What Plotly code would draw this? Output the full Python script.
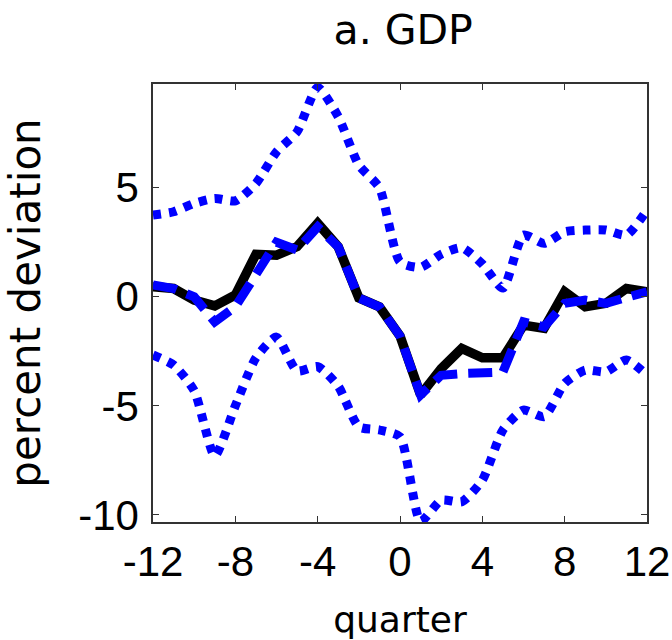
import plotly.graph_objects as go

quarters = list(range(-12, 13))

actual = [0.46, 0.38, -0.15, -0.42, 0.08, 1.95, 1.91, 2.3, 3.37, 2.29, -0.05, -0.46,
          -1.8, -4.5, -3.3, -2.37, -2.8, -2.8, -1.3, -1.45, 0.23, -0.46, -0.3, 0.38, 0.23]

model = [0.54, 0.38, 0.0, -1.15, -0.46, 1.1, 2.5, 2.15, 3.2, 2.29, -0.05, -0.46,
         -1.8, -4.5, -3.6, -3.52, -3.52, -3.45, -1.15, -1.38, -0.3, -0.15, -0.3, 0.0, 0.23]

upper = [3.75, 3.9, 4.28, 4.51, 4.4, 5.2, 6.65, 7.57, 9.6, 8.26, 6.04, 5.0,
         1.6, 1.35, 1.95, 2.25, 1.5, 0.4, 2.83, 2.45, 2.98, 3.06, 3.06, 2.83, 3.98]

lower = [-2.67, -3.13, -4.3, -7.3, -5.0, -2.8, -1.85, -3.4, -3.2, -4.1, -5.96, -6.11,
         -6.42, -10.3, -9.33, -9.4, -8.41, -6.11, -5.2, -5.5, -3.97, -3.36, -3.44, -2.9, -3.59]

xticks = [-12, -8, -4, 0, 4, 8, 12]
yticks = [-10, -5, 0, 5]

BLUE = "#0000FF"
FONT = "DejaVu Sans"
TICKFONT = "Liberation Sans"

fig = go.Figure()
fig.add_trace(go.Scatter(x=quarters, y=actual, mode="lines",
                         line=dict(color="black", width=9.5), showlegend=False))
fig.add_trace(go.Scatter(x=quarters, y=model, mode="lines",
                         line=dict(color=BLUE, width=9, dash="24px,11px"), showlegend=False))
fig.add_trace(go.Scatter(x=quarters, y=upper, mode="lines",
                         line=dict(color=BLUE, width=9, dash="8px,8px", shape="spline", smoothing=0.6),
                         showlegend=False))
fig.add_trace(go.Scatter(x=quarters, y=lower, mode="lines",
                         line=dict(color=BLUE, width=9, dash="8px,8px", shape="spline", smoothing=0.6),
                         showlegend=False))

axis_common = dict(
    showline=True, linecolor="#333333", linewidth=1.5, mirror="ticks",
    ticks="inside", ticklen=6, tickwidth=1.2, tickcolor="#333333",
    showgrid=False, zeroline=False, automargin=False, ticklabeloverflow="allow",
    tickfont=dict(family=TICKFONT, size=42, color="black"),
)

fig.update_layout(
    width=672, height=640,
    margin=dict(l=153, r=25, t=84, b=118),
    paper_bgcolor="white", plot_bgcolor="white",
    title=dict(text="a. GDP", x=0.6, xanchor="center", y=1 - 30 / 640, yanchor="middle",
               font=dict(family=FONT, size=41, color="black")),
    xaxis=dict(range=[-12, 12], tickvals=xticks, ticktext=[str(v) for v in xticks],
               ticklabelstandoff=2,
               title=dict(text="quarter", standoff=23,
                          font=dict(family=FONT, size=36, color="black")),
               **axis_common),
    yaxis=dict(range=[-10.33, 9.76], tickvals=yticks, ticktext=[str(v) for v in yticks],
               ticklabelstandoff=4,
               title=dict(text="percent deviation", standoff=24,
                          font=dict(family=FONT, size=42, color="black")),
               **axis_common),
)

fig.write_html("out.html", config={"displayModeBar": False},
               post_script="document.body.style.margin='0';")
